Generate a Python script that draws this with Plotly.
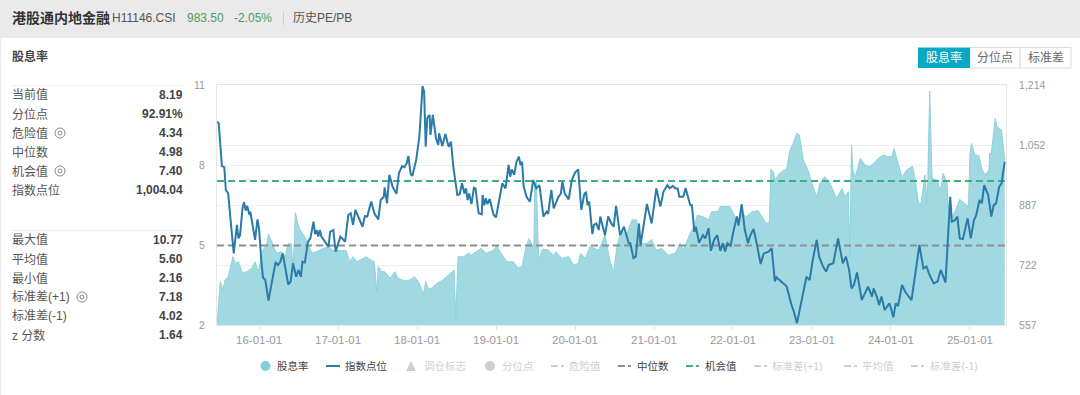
import plotly.graph_objects as go

# ---------- data ----------
index_years = [2015.47,2015.49,2015.53,2015.56,2015.58,2015.61,2015.64,2015.68,2015.72,2015.74,2015.76,2015.79,2015.81,2015.83,2015.85,2015.88,2015.89,2015.92,2015.95,2015.98,
2016.00,2016.03,2016.05,2016.08,2016.12,2016.15,2016.18,2016.21,2016.24,2016.27,2016.30,2016.33,2016.37,2016.40,2016.43,2016.47,2016.50,2016.53,2016.55,2016.58,2016.62,2016.65,2016.69,2016.71,2016.73,2016.75,2016.77,2016.79,2016.84,2016.88,2016.90,2016.94,2016.97,
2017.03,2017.09,2017.13,2017.16,2017.19,2017.22,2017.26,2017.31,2017.34,2017.37,2017.42,2017.46,2017.51,2017.54,2017.58,2017.59,2017.62,2017.65,2017.69,2017.74,2017.77,2017.81,2017.84,2017.87,2017.89,2017.92,2017.94,2017.99,
2018.03,2018.06,2018.07,2018.09,2018.11,2018.13,2018.16,2018.17,2018.20,2018.24,2018.27,2018.28,2018.32,2018.36,2018.40,2018.43,2018.46,2018.51,2018.54,2018.57,2018.60,2018.62,2018.64,2018.66,2018.69,2018.72,2018.74,2018.78,2018.82,2018.83,2018.85,2018.87,2018.89,2018.92,2018.97,
2019.00,2019.05,2019.08,2019.12,2019.16,2019.18,2019.20,2019.23,2019.26,2019.29,2019.31,2019.33,2019.35,2019.39,2019.43,2019.47,2019.51,2019.55,2019.60,2019.64,2019.66,2019.70,2019.73,2019.79,2019.82,2019.84,2019.87,2019.92,2019.96,
2020.00,2020.04,2020.08,2020.12,2020.14,2020.16,2020.18,2020.22,2020.24,2020.27,2020.30,2020.32,2020.38,2020.42,2020.46,2020.49,2020.52,2020.57,2020.62,2020.68,2020.70,2020.74,2020.77,2020.81,2020.83,2020.87,2020.91,2020.97,
2021.03,2021.08,2021.12,2021.17,2021.20,2021.24,2021.27,2021.30,2021.32,2021.37,2021.40,2021.46,2021.48,2021.51,2021.53,2021.57,2021.62,2021.65,2021.69,2021.72,2021.76,2021.80,2021.84,2021.87,2021.90,2021.93,2021.97,
2022.00,2022.05,2022.07,2022.11,2022.15,2022.19,2022.22,2022.26,2022.30,2022.35,2022.39,2022.45,2022.49,2022.53,2022.55,2022.59,2022.62,2022.68,2022.74,2022.77,2022.81,2022.86,2022.91,2022.93,2022.97,
2023.01,2023.06,2023.09,2023.14,2023.18,2023.21,2023.27,2023.33,2023.39,2023.43,2023.47,2023.50,2023.53,2023.57,2023.63,2023.71,2023.76,2023.78,2023.82,2023.85,2023.88,2023.92,2023.98,
2024.00,2024.03,2024.06,2024.09,2024.14,2024.18,2024.26,2024.31,2024.36,2024.41,2024.45,2024.48,2024.54,2024.59,2024.63,2024.69,2024.71,2024.75,2024.77,2024.81,2024.84,2024.87,2024.91,2024.94,2024.97,
2025.01,2025.05,2025.08,2025.12,2025.15,2025.18,2025.23,2025.27,2025.30,2025.33,2025.37,2025.40,2025.44]
index_values = [1114,1109,992,989,927,917,844,753,831,794,803,876,893,870,883,858,867,831,790,846,
822,730,687,680,624,660,698,729,721,730,753,717,668,676,726,689,708,689,730,728,785,794,840,806,817,799,817,799,785,771,812,817,758,
799,785,858,863,831,872,849,826,855,854,895,863,846,899,908,934,890,968,936,916,972,992,989,1000,1020,970,965,1009,
1073,1200,1211,1196,1045,1123,1132,1077,1132,1068,1050,1082,1047,1080,1045,1059,990,913,915,945,917,931,899,917,888,933,931,863,860,913,885,904,888,902,858,
852,908,945,931,995,963,983,968,1004,1018,995,1004,936,906,895,954,931,940,854,867,861,927,876,908,916,949,917,901,954,
974,983,872,917,920,885,895,806,831,835,817,854,803,854,835,826,883,803,826,781,781,740,744,835,776,835,888,835,
931,881,922,940,931,938,931,931,908,908,931,885,885,812,826,782,803,794,822,760,790,803,760,781,758,781,774,
808,854,829,888,817,781,803,820,781,724,753,758,767,676,688,680,676,662,612,594,562,616,667,689,680,
735,790,744,717,703,721,726,794,726,744,708,657,666,701,625,662,635,657,635,612,635,598,616,
603,578,616,609,667,648,625,698,776,712,717,698,671,676,708,673,753,908,840,844,854,794,792,817,849,
794,844,858,899,890,940,913,854,885,890,936,945,1004]

yield_years = [2015.47,2015.51,2015.54,2015.57,2015.61,2015.67,2015.70,2015.74,2015.78,2015.82,2015.91,2015.95,2015.99,
2016.05,2016.10,2016.12,2016.17,2016.22,2016.29,2016.33,2016.37,2016.41,2016.43,2016.46,2016.49,2016.52,2016.58,2016.62,2016.67,2016.73,2016.81,2016.88,2016.94,
2017.03,2017.10,2017.15,2017.19,2017.24,2017.36,2017.41,2017.46,2017.49,2017.51,2017.55,2017.59,2017.66,2017.72,2017.76,2017.85,2017.91,2017.97,
2018.03,2018.08,2018.11,2018.14,2018.19,2018.25,2018.33,2018.42,2018.47,2018.49,2018.52,2018.59,2018.65,2018.69,2018.76,2018.81,2018.88,2018.97,
2019.01,2019.05,2019.14,2019.22,2019.28,2019.33,2019.38,2019.42,2019.46,2019.48,2019.49,2019.51,2019.54,2019.59,2019.66,2019.73,2019.76,2019.83,2019.92,2019.98,
2020.04,2020.07,2020.13,2020.19,2020.30,2020.38,2020.44,2020.49,2020.53,2020.59,2020.65,2020.72,2020.78,2020.82,2020.91,2020.97,
2021.03,2021.10,2021.18,2021.27,2021.33,2021.37,2021.46,2021.50,2021.55,2021.62,2021.69,2021.73,2021.81,2021.84,2021.96,
2022.03,2022.07,2022.11,2022.17,2022.24,2022.32,2022.38,2022.42,2022.46,2022.48,2022.51,2022.53,2022.59,2022.68,2022.72,2022.76,2022.81,2022.84,2022.89,2022.95,
2023.00,2023.06,2023.10,2023.16,2023.23,2023.31,2023.38,2023.42,2023.46,2023.48,2023.50,2023.52,2023.55,2023.61,2023.67,2023.73,2023.78,2023.84,2023.90,2023.97,
2024.01,2024.04,2024.09,2024.14,2024.20,2024.27,2024.30,2024.35,2024.38,2024.43,2024.46,2024.49,2024.52,2024.58,2024.63,2024.66,2024.71,2024.73,2024.77,2024.81,2024.87,2024.94,2024.98,
2025.00,2025.02,2025.06,2025.11,2025.15,2025.19,2025.24,2025.25,2025.27,2025.32,2025.34,2025.40,2025.44]
yield_values = [2.06,3.63,3.31,3.69,3.81,4.56,4.31,4.37,4.00,3.96,4.13,4.37,4.00,
4.81,5.06,5.41,5.06,4.69,4.75,4.56,5.06,5.04,4.00,6.21,5.81,5.56,5.31,5.06,4.69,4.75,4.87,4.94,4.79,
4.79,4.79,4.37,4.56,4.37,4.56,4.44,4.37,3.25,4.19,4.00,4.00,3.75,4.00,3.75,3.65,3.69,3.81,
3.56,3.12,3.63,3.38,3.38,3.56,3.69,3.94,4.06,2.25,4.56,4.56,4.69,4.62,4.75,4.87,4.69,4.81,
4.97,4.75,4.37,4.37,4.13,4.19,4.94,5.25,4.94,5.06,7.37,7.37,4.44,4.85,4.81,4.62,4.75,4.50,4.56,4.25,
4.31,4.69,4.50,4.94,4.81,5.37,4.44,3.96,4.94,5.56,5.37,5.94,5.94,5.06,5.06,5.21,
4.81,4.87,4.62,4.69,5.06,4.81,5.44,5.69,6.12,6.06,5.94,6.25,6.25,6.44,6.44,
6.06,5.81,6.19,6.06,6.25,6.29,6.00,5.81,5.87,7.84,7.75,7.44,7.69,7.87,8.56,8.81,9.19,9.12,8.19,7.81,
7.31,6.81,7.31,7.56,7.31,6.75,7.12,6.81,7.00,4.56,8.75,7.75,7.56,8.25,8.00,7.94,8.06,8.25,8.37,8.31,
8.31,8.62,8.06,7.56,7.81,7.96,7.56,6.56,6.56,7.62,6.56,10.77,7.50,7.44,7.06,7.69,7.31,6.19,6.06,6.25,6.71,6.56,6.44,
8.44,8.81,8.37,8.37,7.87,7.62,7.81,8.44,8.44,9.75,9.44,9.31,8.19]

median_value = 4.98
opportunity_value = 7.40
x_range = [2015.468, 2025.456]

x_tick_vals = [2016,2017,2018,2019,2020,2021,2022,2023,2024,2025]
x_tick_text = ["16-01-01","17-01-01","18-01-01","19-01-01","20-01-01","21-01-01","22-01-01","23-01-01","24-01-01","25-01-01"]
left_ticks = [2,5,8,11]
left_range = [2,11]
right_range = [557,1214]
right_tick_vals = [557,721.25,885.5,1049.75,1214]
right_tick_text = ["557","722","887","1,052","1,214"]

stats_top = [("当前值","8.19"),("分位点","92.91%"),("危险值","4.34"),("中位数","4.98"),("机会值","7.40"),("指数点位","1,004.04")]
stats_bottom = [("最大值","10.77"),("平均值","5.60"),("最小值","2.16"),("标准差(+1)","7.18"),("标准差(-1)","4.02"),("z 分数","1.64")]

# ---------- style ----------
FONT = "Liberation Sans, Noto Sans CJK SC, sans-serif"
L, R, T, B = 217, 1006, 85, 325
px = lambda x: (x - L) / (R - L)
py = lambda y: (B - y) / (B - T)

FILL = "#a0d9e1"
LINE = "#2b7ba8"
GREEN = "#3fae7f"
GREY = "#8f8f8f"
OFF = "#cfcfcf"

shapes, notes = [], []

def text(x, y, s, size=12, color="#555", anchor="left", bold=False):
    notes.append(dict(xref="paper", yref="paper", x=px(x), y=py(y), text=f"<b>{s}</b>" if bold else s,
                      showarrow=False, xanchor=anchor, yanchor="middle", borderpad=0,
                      font=dict(size=size, color=color, family=FONT)))

def rect(x0, y0, x1, y1, fill, line=None, layer="below"):
    shapes.append(dict(type="rect", xref="paper", yref="paper", x0=px(x0), x1=px(x1), y0=py(y0), y1=py(y1),
                       fillcolor=fill, line=dict(color=line or fill, width=1 if line else 0), layer=layer))

def seg(x0, y0, x1, y1, color, width=1, dash="solid"):
    shapes.append(dict(type="line", xref="paper", yref="paper", x0=px(x0), x1=px(x1), y0=py(y0), y1=py(y1),
                       line=dict(color=color, width=width, dash=dash), layer="below"))

def circle(cx, cy, r, fill, line=None, width=1):
    shapes.append(dict(type="circle", xref="paper", yref="paper", x0=px(cx-r), x1=px(cx+r), y0=py(cy-r), y1=py(cy+r),
                       fillcolor=fill, line=dict(color=line or fill, width=width if line else 0), layer="below"))

def gear(cx, cy):
    circle(cx, cy, 5, "rgba(0,0,0,0)", "#8a8a8a", 1)
    circle(cx, cy, 2, "rgba(0,0,0,0)", "#8a8a8a", 1)

# card
rect(1, 38, 1080, 395, "#ffffff")

# header
text(10.5, 18, "港股通内地金融", 14, "#333", bold=True)
text(111, 18, "H11146.CSI", 12, "#555")
text(185.5, 18, "983.50", 12, "#4c9f5c")
text(233, 18, "-2.05%", 12, "#4c9f5c")
seg(283.5, 12, 283.5, 25, "#cccccc")
text(292, 18, "历史PE/PB", 12, "#555")
text(10.5, 56, "股息率", 12, "#444", bold=True)

# stats
seg(12, 85.5, 184, 85.5, "#efefef")
seg(12, 230.5, 184, 230.5, "#efefef")
for i, (k, v) in enumerate(stats_top):
    text(10.5, 95 + i * 19, k, 12, "#555")
    text(184, 95 + i * 19, v, 12, "#444", "right", True)
for i, (k, v) in enumerate(stats_bottom):
    text(10.5, 240 + i * 19, k, 12, "#555")
    text(184, 240 + i * 19, v, 12, "#444", "right", True)
gear(60, 133); gear(60, 171); gear(82, 297)

# buttons
rect(970, 47.5, 1020, 68, "#ffffff", "#dddddd")
rect(1020, 47.5, 1071, 68, "#ffffff", "#dddddd")
rect(918, 47.5, 970, 68, "#09a9c6")
text(944, 57.5, "股息率", 12, "#ffffff", "center")
text(995, 57.5, "分位点", 12, "#666", "center")
text(1045.5, 57.5, "标准差", 12, "#666", "center")

# legend
LY = 366
circle(265.5, LY, 5, "#84d0d8")
text(276, LY, "股息率", 10.5, "#444")
seg(326, LY, 340, LY, LINE, 2)
text(344, LY, "指数点位", 10.5, "#444")
shapes.append(dict(type="path", xref="paper", yref="paper", layer="below", fillcolor=OFF, line=dict(width=0),
                   path=f"M {px(406)} {py(371)} L {px(416)} {py(371)} L {px(411)} {py(361)} Z"))
text(423, LY, "调仓标志", 10.5, OFF)
circle(490, LY, 5, OFF)
text(501, LY, "分位点", 10.5, OFF)
for x0, col, label, tx, tcol in [(551, OFF, "危险值", 568, OFF), (618, GREY, "中位数", 636, "#444"),
                                 (686, GREEN, "机会值", 704, "#444"), (754, OFF, "标准差(+1)", 771, OFF),
                                 (844, OFF, "平均值", 861, OFF), (911, OFF, "标准差(-1)", 929, OFF)]:
    seg(x0, LY, x0 + 7, LY, col, 2)
    seg(x0 + 10, LY, x0 + 13, LY, col, 2)
    text(tx, LY, label, 10.5, tcol)

fig = go.Figure()
fig.add_trace(go.Scatter(x=yield_years, y=yield_values, name="股息率", mode="lines", fill="tozeroy",
                         fillcolor=FILL, line=dict(color="#8fd2db", width=1)))
fig.add_trace(go.Scatter(x=x_range, y=[median_value]*2, name="中位数", mode="lines",
                         line=dict(color=GREY, width=2, dash="7px,4px")))
fig.add_trace(go.Scatter(x=x_range, y=[opportunity_value]*2, name="机会值", mode="lines",
                         line=dict(color=GREEN, width=2, dash="7px,4px")))
fig.add_trace(go.Scatter(x=index_years, y=index_values, name="指数点位", mode="lines", yaxis="y2",
                         line=dict(color=LINE, width=2)))

xfont = dict(size=11.5, color="#999999", family=FONT)
yfont = dict(size=10.5, color="#999999", family=FONT)
fig.update_layout(
    width=1080, height=395, autosize=False, showlegend=False,
    margin=dict(l=L, r=1080 - R, t=T, b=395 - B, pad=0),
    paper_bgcolor="#eaeaea", plot_bgcolor="rgba(0,0,0,0)",
    font=dict(family=FONT),
    shapes=shapes, annotations=notes,
    xaxis=dict(range=x_range, tickmode="array", tickvals=x_tick_vals, ticktext=x_tick_text, showgrid=False,
               ticks="outside", ticklen=4, tickcolor="#e3e3e3", tickfont=xfont, showline=True,
               linecolor="#e6e6e6", mirror=True, zeroline=False),
    yaxis=dict(range=left_range, tickmode="array", tickvals=left_ticks, gridcolor="#eeeeee", ticklen=0,
               ticks="", tickfont=yfont, ticklabelstandoff=9, showline=True, linecolor="#e6e6e6",
               zeroline=False),
    yaxis2=dict(range=right_range, tickmode="array", tickvals=right_tick_vals, ticktext=right_tick_text,
                overlaying="y", side="right", gridcolor="#eeeeee", ticks="", tickfont=yfont,
                ticklabelstandoff=10, showline=True, linecolor="#e6e6e6", zeroline=False),
)
fig.write_html("out.html", config=dict(displayModeBar=False),
               post_script="document.body.style.margin='0';")
